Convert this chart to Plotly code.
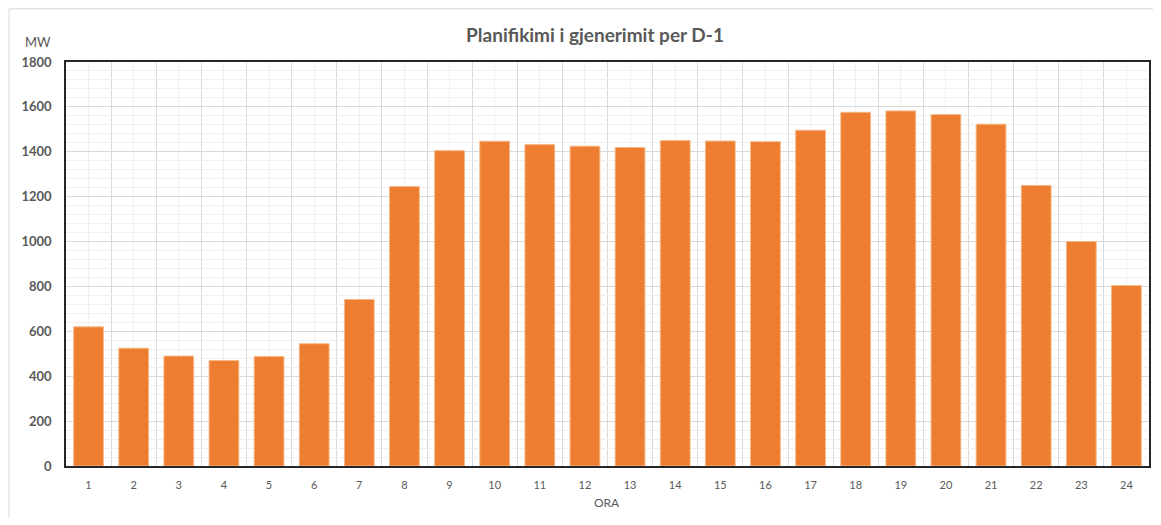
import plotly.graph_objects as go

hours = list(range(1, 25))
hour_labels = [str(h) for h in hours]
generation_mw = [620, 525, 490, 470, 488, 545, 742, 1245, 1405, 1447, 1432, 1425,
                 1419, 1450, 1448, 1445, 1496, 1576, 1582, 1566, 1523, 1250, 1000, 804]

title_text = "Planifikimi i gjenerimit per D-1"
y_unit = "MW"
x_title = "ORA"

# page offset of the plotly div (default body margin)
OFF = 8
W, H = 1161 - 2 * OFF, 525 - 2 * OFF
# plot area in page pixels
PL, PR, PT, PB = 65.5, 1149, 61.7, 466
L = PL - OFF
T = PT - OFF
R = W - (PR - OFF)
B = H - (PB - OFF)
pw = PR - PL
ph = PB - PT

def px_x(x):
    return (x - PL) / pw

def px_y(y):
    return (PB - y) / ph

fig = go.Figure()
fig.add_trace(go.Bar(
    x=hours, y=generation_mw,
    marker=dict(color="#ED7D31", line=dict(color="#F6B989", width=1)),
    width=0.66,
    hoverinfo="x+y",
))

grey = "#595959"
fig.update_layout(
    width=W, height=H,
    margin=dict(l=L, r=R, t=T, b=B, autoexpand=False),
    paper_bgcolor="white", plot_bgcolor="white",
    font=dict(family="Lato, Open Sans, sans-serif", color=grey),
    showlegend=False,
    title=dict(text=title_text, x=(595 - OFF) / W, xanchor="center",
               y=1 - (35 - OFF) / H, yanchor="middle", xref="container", yref="container",
               font=dict(family="Lato", size=19, color=grey, weight="bold")),
    xaxis=dict(
        range=[0.5, 24.5], tickmode="array", tickvals=hours, ticktext=hour_labels,
        tickfont=dict(size=11, color=grey), ticks="", ticklen=0, ticklabelstandoff=8,
        showgrid=True, gridcolor="#F0F0F0", gridwidth=1,
        minor=dict(tick0=0.5, dtick=1, showgrid=True, gridcolor="#D9D9D9", gridwidth=1),
        showline=True, linecolor="#262626", linewidth=1.5, mirror=True,
        zeroline=False, fixedrange=True,
    ),
    yaxis=dict(
        range=[0, 1800], dtick=200, tick0=0,
        tickfont=dict(size=13, color=grey, weight="bold"), ticks="", ticklabelstandoff=10,
        showgrid=True, gridcolor="#D9D9D9", gridwidth=1,
        minor=dict(dtick=40, showgrid=True, gridcolor="#F0F0F0", gridwidth=1),
        showline=True, linecolor="#262626", linewidth=1.5, mirror=True,
        zeroline=False, fixedrange=True,
    ),
    bargap=0.34,
)

fig.add_annotation(text=y_unit, xref="paper", yref="paper",
                   x=px_x(52), y=px_y(42), xanchor="right", yanchor="middle",
                   showarrow=False, font=dict(size=13, color=grey))
fig.add_annotation(text=x_title, xref="paper", yref="paper",
                   x=px_x(607), y=px_y(503), xanchor="center", yanchor="middle",
                   showarrow=False, font=dict(size=12, color=grey))

# outer chart border (top and left edges visible in the reference)
fig.add_shape(type="line", xref="paper", yref="paper",
              x0=px_x(OFF + 0.5), x1=px_x(W + OFF), y0=px_y(OFF + 0.5), y1=px_y(OFF + 0.5),
              line=dict(color="#D9D9D9", width=1))
fig.add_shape(type="line", xref="paper", yref="paper",
              x0=px_x(OFF + 0.5), x1=px_x(OFF + 0.5), y0=px_y(OFF + 0.5), y1=px_y(H + OFF),
              line=dict(color="#D9D9D9", width=1))

fig.write_html("out.html")
